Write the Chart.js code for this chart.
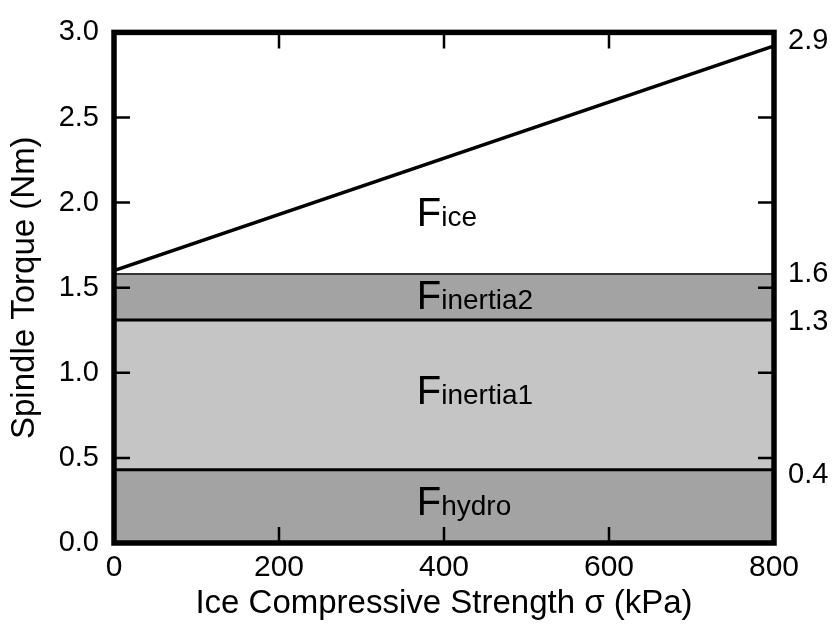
<!DOCTYPE html>
<html>
<head>
<meta charset="utf-8">
<script src="https://cdn.jsdelivr.net/npm/chart.js@4.4.1/dist/chart.umd.min.js"></script>
<style>
    body { margin: 0; background: #fff; }
</style>
</head>
<body>
<canvas id="chart" width="838" height="624"></canvas>
<script>
// Данные графика
const strength = [0, 800];
const hydroTop = [0.43, 0.43];
const inertia1Top = [1.31, 1.31];
const inertia2Top = [1.58, 1.58];
const iceTorque = [1.6, 2.92];
const rightTickValues = [0.4, 1.3, 1.58, 2.95];
const rightTickLabels = ['0.4', '1.3', '1.6', '2.9'];
const bandNames = ['ice', 'inertia2', 'inertia1', 'hydro'];

const family = "'Liberation Sans', Arial, Helvetica, sans-serif";
Chart.defaults.font.family = family;
Chart.defaults.color = '#000';

const points = (ys) => strength.map((x, i) => ({x: x, y: ys[i]}));

// Рамка, внутренние засечки и подписи F
const frame = {
    id: 'frame',
    afterDatasetsDraw(chart, args, opts) {
        const {ctx, chartArea: a, scales: {x, y}} = chart;
        ctx.save();
        ctx.strokeStyle = '#000';
        ctx.lineWidth = 2.5;
        ctx.beginPath();
        x.ticks.forEach(t => {
            if (t.value <= x.min || t.value >= x.max) return;
            const px = x.getPixelForValue(t.value);
            ctx.moveTo(px, a.bottom); ctx.lineTo(px, a.bottom - opts.tick);
            ctx.moveTo(px, a.top); ctx.lineTo(px, a.top + opts.tick);
        });
        y.ticks.forEach(t => {
            if (t.value <= y.min || t.value >= y.max) return;
            const py = y.getPixelForValue(t.value);
            ctx.moveTo(a.left, py); ctx.lineTo(a.left + opts.tick, py);
            ctx.moveTo(a.right, py); ctx.lineTo(a.right - opts.tick, py);
        });
        ctx.stroke();
        ctx.lineWidth = 5.5;
        ctx.strokeRect(a.left, a.top, a.width, a.height);

        ctx.fillStyle = '#000';
        ctx.textBaseline = 'alphabetic';
        ctx.textAlign = 'left';
        opts.labels.forEach((l, i) => {
            const px = x.getPixelForValue(l[0]);
            const py = y.getPixelForValue(l[1]);
            ctx.font = `40px ${family}`;
            ctx.fillText('F', px, py);
            const w = ctx.measureText('F').width;
            ctx.font = `28px ${family}`;
            ctx.fillText(bandNames[i], px + w, py);
        });
        ctx.restore();
    }
};

const data = {
    datasets: [
        {
            label: 'hydro',
            data: points(hydroTop),
            borderColor: '#000',
            borderWidth: 3,
            backgroundColor: '#a3a3a3',
            fill: 'origin',
            pointRadius: 0
        },
        {
            label: 'inertia1',
            data: points(inertia1Top),
            borderColor: '#000',
            borderWidth: 3,
            backgroundColor: '#c5c5c5',
            fill: '-1',
            pointRadius: 0
        },
        {
            label: 'inertia2',
            data: points(inertia2Top),
            borderColor: '#333',
            borderWidth: 2,
            backgroundColor: '#a3a3a3',
            fill: '-1',
            pointRadius: 0
        },
        {
            label: 'ice',
            data: points(iceTorque),
            borderColor: '#000',
            borderWidth: 3.5,
            fill: false,
            pointRadius: 0
        }
    ]
};

const options = {
    responsive: false,
    animation: false,
    devicePixelRatio: 1,
    layout: {padding: {top: 23, left: 0, right: 0, bottom: 0}},
    plugins: {
        legend: {display: false},
        tooltip: {enabled: false},
        frame: {
            tick: 16,
            labels: [[367, 1.863], [367, 1.373], [367, 0.819], [367, 0.162]]
        }
    },
    scales: {
        x: {
            type: 'linear',
            min: 0,
            max: 800,
            grid: {display: false, drawTicks: false},
            border: {display: false},
            ticks: {stepSize: 200, padding: 7, maxRotation: 0, font: {size: 30}},
            title: {
                display: true,
                text: 'Ice Compressive Strength σ (kPa)',
                font: {size: 33},
                padding: {top: 0, bottom: 0}
            },
            afterFit: (scale) => { scale.height = 81; }
        },
        y: {
            type: 'linear',
            position: 'left',
            min: 0,
            max: 3,
            grid: {display: false, drawTicks: false},
            border: {display: false},
            ticks: {stepSize: 0.5, padding: 15, font: {size: 29}, callback: (v) => v.toFixed(1)},
            title: {
                display: true,
                text: 'Spindle Torque (Nm)',
                font: {size: 33},
                padding: {top: 5, bottom: 0}
            },
            afterFit: (scale) => { scale.width = 114; }
        },
        y2: {
            type: 'linear',
            position: 'right',
            min: 0,
            max: 3,
            grid: {display: false, drawTicks: false},
            border: {display: false},
            ticks: {
                padding: 14,
                autoSkip: false,
                font: {size: 29},
                callback: (v, i) => rightTickLabels[i]
            },
            afterBuildTicks: (axis) => {
                axis.ticks = rightTickValues.map(v => ({value: v}));
            },
            afterFit: (scale) => { scale.width = 64; }
        }
    }
};

new Chart(document.getElementById('chart').getContext('2d'), {
    type: 'line',
    data: data,
    options: options,
    plugins: [frame]
});
</script>
</body>
</html>
